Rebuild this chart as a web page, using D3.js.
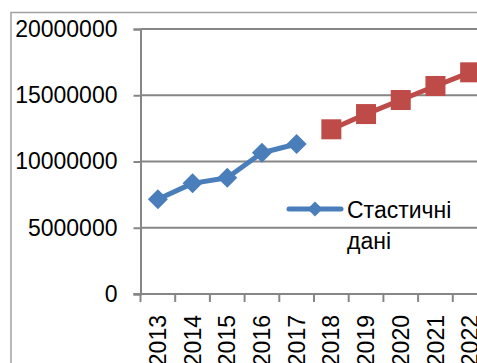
<!DOCTYPE html>
<html>
<head>
<meta charset="utf-8">
<script src="https://cdn.jsdelivr.net/npm/d3@7"></script>
<style>
  html, body { margin: 0; padding: 0; background: #fff; overflow: hidden; }
  svg { display: block; }
  text { font-family: "Liberation Sans", Arial, sans-serif; fill: #000; }
</style>
</head>
<body>
<script>
const years = ["2013","2014","2015","2016","2017","2018","2019","2020","2021","2022"];
const statYears = ["2013","2014","2015","2016","2017"];
const statValues = [7150000, 8350000, 8780000, 10660000, 11320000];
const forecastYears = ["2018","2019","2020","2021","2022"];
const forecastValues = [12430000, 13580000, 14640000, 15700000, 16730000];
const yTicks = [0, 5000000, 10000000, 15000000, 20000000];
const legendLines = ["Стастичні", "дані"];

const W = 477, H = 363;
const svg = d3.select("body").append("svg").attr("width", W).attr("height", H);

const left = 140.5, bandW = 34.7;
const x = d3.scaleBand().domain(years).range([left, left + bandW * years.length]).padding(0);
const y = d3.scaleLinear().domain([0, 20000000]).range([294, 29]);

const axisColor = "#868686";
const fs = 23;

// outer chart border (extends beyond visible area)
svg.append("rect").attr("x", 11).attr("y", 12.5).attr("width", 600).attr("height", 500)
  .attr("fill", "none").attr("stroke", "#a0a0a0").attr("stroke-width", 1.5);

// gridlines
svg.append("g").selectAll("line").data(yTicks.filter(d => d > 0)).join("line")
  .attr("x1", left).attr("x2", W + 20)
  .attr("y1", d => y(d)).attr("y2", d => y(d))
  .attr("stroke", axisColor).attr("stroke-width", 2);

// y axis
const yAxis = svg.append("g").attr("transform", `translate(${left},0)`)
  .call(d3.axisLeft(y).tickValues(yTicks).tickSize(7).tickPadding(16).tickFormat(d3.format("d")));
yAxis.select(".domain").attr("stroke", axisColor).attr("stroke-width", 2);
yAxis.selectAll(".tick line").attr("stroke", axisColor).attr("stroke-width", 2);
yAxis.selectAll(".tick text").style("font-size", fs + "px").attr("font-family", "Liberation Sans, Arial, sans-serif").attr("fill", "#000");
svg.selectAll("text").attr("fill", "#000");

// x axis line
svg.append("line").attr("x1", left - 7).attr("x2", W + 20).attr("y1", y(0)).attr("y2", y(0))
  .attr("stroke", axisColor).attr("stroke-width", 2);
// x ticks at band boundaries
const bounds = years.map(d => x(d)).concat([x(years[years.length - 1]) + x.bandwidth()]);
svg.append("g").selectAll("line").data(bounds).join("line")
  .attr("x1", d => d).attr("x2", d => d).attr("y1", y(0)).attr("y2", y(0) + 8)
  .attr("stroke", axisColor).attr("stroke-width", 2);
// x labels
svg.append("g").selectAll("text").data(years).join("text")
  .attr("transform", d => `translate(${x(d) + x.bandwidth() / 2},315) rotate(-90)`)
  .attr("text-anchor", "end").attr("dy", "0.35em")
  .style("font-size", fs + "px").text(d => d);

const line = d3.line().x(d => x(d[0]) + x.bandwidth() / 2).y(d => y(d[1]));
const blue = "#4A7EBB", red = "#BE4B48";

const statData = statYears.map((d, i) => [d, statValues[i]]);
const fcData = forecastYears.map((d, i) => [d, forecastValues[i]]);

svg.append("path").datum(statData).attr("d", line).attr("fill", "none")
  .attr("stroke", blue).attr("stroke-width", 5).attr("stroke-linejoin", "round");
svg.append("g").selectAll("path").data(statData).join("path")
  .attr("transform", d => `translate(${x(d[0]) + x.bandwidth() / 2},${y(d[1])})`)
  .attr("d", "M0,-10L10,0L0,10L-10,0Z").attr("fill", blue);

svg.append("path").datum(fcData).attr("d", line).attr("fill", "none")
  .attr("stroke", red).attr("stroke-width", 5).attr("stroke-linejoin", "round");
svg.append("g").selectAll("rect").data(fcData).join("rect")
  .attr("x", d => x(d[0]) + x.bandwidth() / 2 - 10).attr("y", d => y(d[1]) - 10)
  .attr("width", 20).attr("height", 20).attr("fill", red);

// legend
const lg = svg.append("g");
lg.append("line").attr("x1", 289).attr("x2", 341).attr("y1", 209).attr("y2", 209)
  .attr("stroke", blue).attr("stroke-width", 5).attr("stroke-linecap", "round");
lg.append("path").attr("transform", "translate(315,209)").attr("d", "M0,-7.5L7.5,0L0,7.5L-7.5,0Z").attr("fill", blue);
lg.selectAll("text").data(legendLines).join("text")
  .attr("x", 347).attr("y", (d, i) => 218 + i * 31)
  .style("font-size", fs + "px").text(d => d);
</script>
</body>
</html>
